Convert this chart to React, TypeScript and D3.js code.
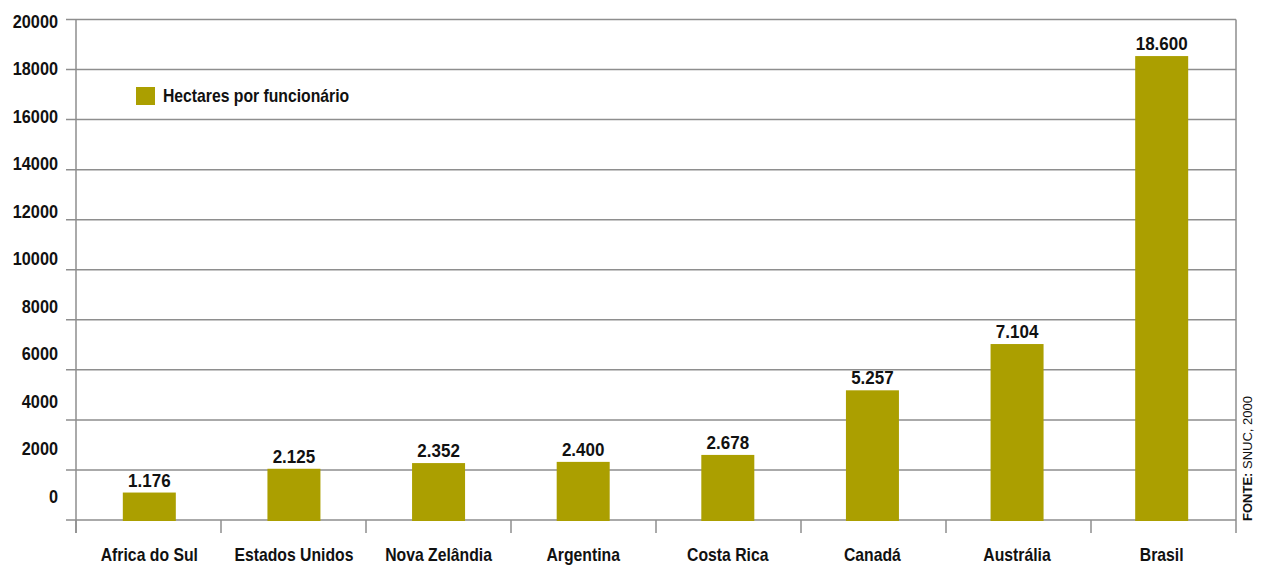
import React from "react";
import * as d3 from "d3";

const categories = [
  "Africa do Sul",
  "Estados Unidos",
  "Nova Zelândia",
  "Argentina",
  "Costa Rica",
  "Canadá",
  "Austrália",
  "Brasil",
];
const values = [1176, 2125, 2352, 2400, 2678, 5257, 7104, 18600];
const valueLabels = ["1.176", "2.125", "2.352", "2.400", "2.678", "5.257", "7.104", "18.600"];
const yTicks = [0, 2000, 4000, 6000, 8000, 10000, 12000, 14000, 16000, 18000, 20000];
const legendLabel = "Hectares por funcionário";
const sourceBold = "FONTE:";
const sourceText = " SNUC, 2000";

const W = 1265;
const H = 565;
const FONT = "'Liberation Sans', Arial, sans-serif";
const BAR = "#ab9f00";
const GRID = "#8e8e8e";

type NTProps = {
  x: number;
  y: number;
  sx: number;
  size: number;
  anchor?: "start" | "middle" | "end";
  dy?: string;
  children: React.ReactNode;
};

function NarrowText({ x, y, sx, size, anchor = "start", dy, children }: NTProps) {
  return (
    <text
      transform={`translate(${x},${y}) scale(${sx},1)`}
      textAnchor={anchor}
      fontSize={size}
      fontWeight="bold"
      fill="#111"
      dy={dy}
    >
      {children}
    </text>
  );
}

export default function App() {
  const left = 76;
  const right = 1236;
  const x = d3.scaleBand<string>().domain(categories).range([left, right]).paddingInner(0).paddingOuter(0);
  const xBar = d3.scaleBand<string>().domain(categories).range([77, 1234]).paddingInner(0).paddingOuter(0);
  const yGrid = d3.scaleLinear().domain([0, 20000]).range([520, 19.5]);
  const yBar = d3.scaleLinear().domain([0, 20000]).range([522, 21]);
  const yLabel = d3.scaleLinear().domain([0, 20000]).range([496, 21]);
  const bw = 53;

  return (
    <svg
      width={W}
      height={H}
      style={{ position: "absolute", left: 0, top: 0, background: "#fff" }}
      fontFamily={FONT}
    >
      {yTicks.map((t) => (
        <line key={"g" + t} x1={66} x2={right} y1={yGrid(t)} y2={yGrid(t)} stroke={GRID} strokeWidth={1.5} />
      ))}
      <line x1={left} x2={left} y1={yGrid(20000)} y2={533} stroke={GRID} strokeWidth={1.5} />
      <line x1={right} x2={right} y1={yGrid(20000)} y2={533} stroke={GRID} strokeWidth={1.5} />
      {categories.map((c) => (
        <line key={"s" + c} x1={x(c)!} x2={x(c)!} y1={520} y2={533} stroke={GRID} strokeWidth={1.5} />
      ))}
      {yTicks.map((t) => (
        <NarrowText key={"l" + t} x={58} y={yLabel(t)} dy="0.36em" anchor="end" size={18.5} sx={0.88}>
          {t}
        </NarrowText>
      ))}
      {categories.map((c, i) => {
        const cx = xBar(c)! + xBar.bandwidth() / 2;
        const top = yBar(values[i]);
        return (
          <g key={"b" + c}>
            <rect x={cx - bw / 2} y={top} width={bw} height={521 - top} fill={BAR} />
            <NarrowText x={cx} y={top - 6} anchor="middle" size={18.5} sx={0.92}>
              {valueLabels[i]}
            </NarrowText>
            <NarrowText x={cx} y={561} anchor="middle" size={19} sx={0.83}>
              {c}
            </NarrowText>
          </g>
        );
      })}
      <rect x={136} y={87} width={19} height={18} fill={BAR} />
      <NarrowText x={163} y={102} size={17.5} sx={0.9}>
        {legendLabel}
      </NarrowText>
      <text transform={`translate(1252, 521) rotate(-90)`} fontSize={13} fill="#111">
        <tspan fontWeight="bold">{sourceBold}</tspan>
        <tspan>{sourceText}</tspan>
      </text>
    </svg>
  );
}
